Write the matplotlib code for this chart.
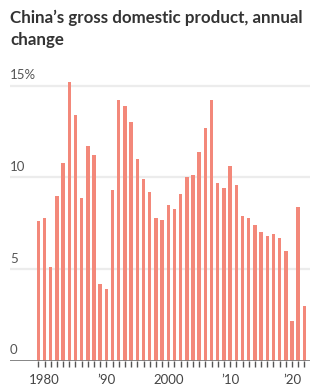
import matplotlib
matplotlib.use("Agg")
import matplotlib.pyplot as plt
import matplotlib.transforms as mtransforms

years = list(range(1979, 2023))
growth = [7.6, 7.8, 5.1, 9.0, 10.8, 15.2, 13.4, 8.9, 11.7, 11.2,
          4.2, 3.9, 9.3, 14.2, 13.9, 13.0, 11.0, 9.9, 9.2, 7.8,
          7.7, 8.5, 8.3, 9.1, 10.0, 10.1, 11.4, 12.7, 14.2, 9.7,
          9.4, 10.6, 9.6, 7.9, 7.8, 7.4, 7.0, 6.8, 6.9, 6.7,
          6.0, 2.2, 8.4, 3.0]
y_ticks = [0, 5, 10, 15]
y_labels = ["0", "5", "10", "15%"]
x_ticks = [1980, 1990, 2000, 2010, 2020]
x_labels = ["1980", "\u201990", "2000", "\u201910", "\u201920"]
title = "China\u2019s gross domestic product, annual\nchange"

W, H = 322, 390
fig = plt.figure(figsize=(W / 100, H / 100), dpi=100)
fig.patch.set_facecolor("white")

left_px, right_px = 10, 310
bottom_px = 361
ymax = 16.0
px_per_unit = (361 - 85.5) / 15
top_px = bottom_px - ymax * px_per_unit
ax = fig.add_axes([left_px / W, (H - bottom_px) / H,
                   (right_px - left_px) / W, (bottom_px - top_px) / H])

# x scale: 1980 at x=44.5, 6.2 px per year
ppy = (292 - 44.5) / 40
x0 = 1980 - (44.5 - left_px) / ppy
x1 = 1980 + (right_px - 44.5) / ppy
ax.set_xlim(x0, x1)
ax.set_ylim(0, ymax)

ax.bar(years, growth, width=0.55, color="#f3887a", zorder=3)

for t in y_ticks[1:]:
    ax.axhline(t, color="#ececec", lw=1.6, zorder=1)
ax.axhline(0, color="#7a7a7a", lw=2.0, zorder=4)

for s in ax.spines.values():
    s.set_visible(False)
ax.set_yticks([])
ax.set_xticks(years, minor=True)
ax.set_xticks(x_ticks)
ax.set_xticklabels(x_labels, fontsize=9.5, color="#444444", family="Lato")
ax.tick_params(axis="x", which="both", length=4, width=1, color="#555555",
               direction="out", pad=5)
ax.set_facecolor("none")

trans = mtransforms.blended_transform_factory(fig.transFigure, ax.transData)
for t, lab in zip(y_ticks, y_labels):
    ax.text(left_px / W, t + 0.25, lab, transform=trans, fontsize=9.5,
            color="#555555", family="Lato", ha="left", va="bottom")

fig.text(10 / W, 1 - 10 / H, title, fontsize=12.2, fontweight="bold",
         color="#333333", family="Lato", ha="left", va="top", linespacing=1.4)

fig.savefig("out.png", dpi=100, facecolor="white")
